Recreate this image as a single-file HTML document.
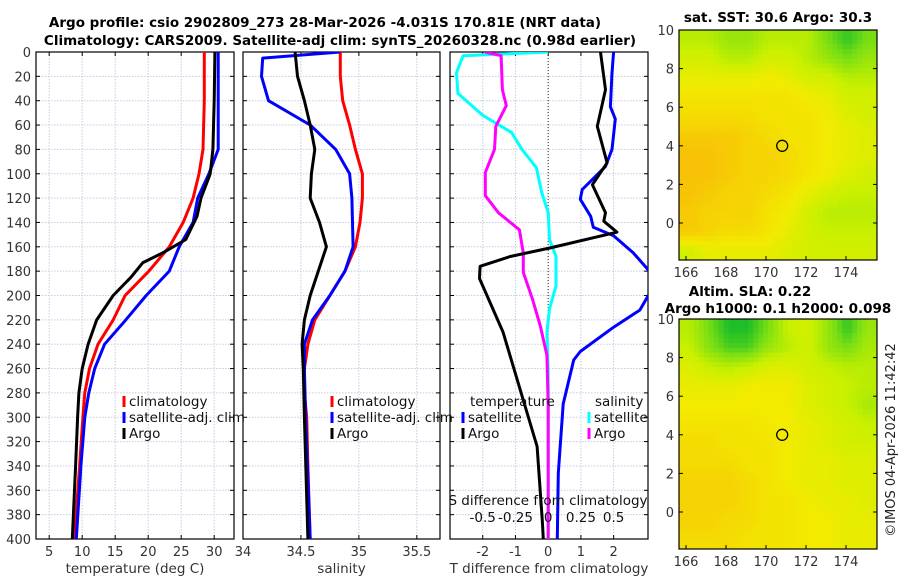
<!DOCTYPE html>
<html><head><meta charset="utf-8">
<style>
body{margin:0;background:#fff;}
svg{display:block;font-family:"DejaVu Sans","Liberation Sans",sans-serif;}
</style></head>
<body>
<svg id="chart" width="900" height="580" xmlns="http://www.w3.org/2000/svg">
<text x="325" y="27" text-anchor="middle" font-size="13.5" font-weight="bold">Argo profile: csio 2902809_273 28-Mar-2026 -4.031S 170.81E (NRT data)</text>
<text x="340" y="45" text-anchor="middle" font-size="13.5" font-weight="bold">Climatology: CARS2009. Satellite-adj clim: synTS_20260328.nc (0.98d earlier)</text>
<text x="778" y="22" text-anchor="middle" font-size="13.5" font-weight="bold">sat. SST: 30.6 Argo: 30.3</text>
<text x="750" y="296" text-anchor="middle" font-size="13.5" font-weight="bold">Altim. SLA: 0.22</text>
<text x="778" y="313" text-anchor="middle" font-size="13.5" font-weight="bold">Argo h1000: 0.1 h2000: 0.098</text>
<text transform="translate(895,440) rotate(-90)" text-anchor="middle" font-size="13" fill="#222">©IMOS 04-Apr-2026 11:42:42</text>
<g id="plots"></g>
</svg>
<script>
// ---- data ----
const depthClim=[0,40,80,100,120,140,160,180,200,220,240,260,280,300,340,400];
const tempClim=[28.5,28.5,28.3,27.7,26.8,25.3,23.2,20.1,16.5,14.7,12.4,11.1,10.4,10.1,9.6,8.8];
const depthSatT=[0,40,80,100,120,140,160,180,200,220,240,260,280,300,340,400];
const tempSat=[30.6,30.6,30.6,29.2,27.5,26.8,24.7,23.2,19.7,16.6,13.4,11.9,11.0,10.4,9.8,9.1];
const depthArgoT=[0,40,80,100,120,135,154,165,173,185,200,220,240,260,280,300,340,400];
const tempArgo=[30.1,30.0,29.8,29.4,28.0,27.4,25.7,22.2,19.2,17.4,14.7,12.2,10.9,10.0,9.5,9.3,9.0,8.5];
const depthSal=[0,20,40,60,80,100,120,140,160,180,200,220,240,260,280,300,340,400];
const salClim=[34.84,34.84,34.86,34.92,34.97,35.03,35.03,35.01,34.97,34.88,34.75,34.62,34.56,34.53,34.53,34.55,34.56,34.58];
const depthSatS=[0,5,20,40,60,80,100,120,160,180,200,220,240,260,300,400];
const salSat=[34.84,34.17,34.16,34.22,34.58,34.80,34.92,34.94,34.95,34.88,34.75,34.60,34.53,34.53,34.54,34.58];
const depthArgoS=[0,20,40,60,80,100,120,140,160,180,200,220,240,260,300,400];
const salArgo=[34.45,34.47,34.53,34.58,34.62,34.59,34.58,34.66,34.72,34.65,34.58,34.53,34.51,34.52,34.53,34.56];
const depthDT=[0,31,61,91,109,132,139,148,161,168,176,186,230,324,385,400];
const dTArgo=[1.6,1.75,1.5,1.8,1.35,1.75,1.7,2.1,0.05,-1.16,-2.08,-2.1,-1.38,-0.34,-0.18,-0.15];
const depthDTS=[0,17,45,55,80,94,113,121,135,144,151,165,179,190,200,212,226,246,253,289,346,400];
const dTSat=[2.0,1.95,1.9,2.05,1.95,1.75,1.04,0.98,1.3,1.38,2.0,2.6,3.06,3.4,3.06,2.8,2.0,0.98,0.78,0.46,0.31,0.28];
const depthDSS=[0,3,17,34,52,66,80,95,115,132,154,168,192,211,230,264,400];
const dSSat=[0,-0.65,-0.7,-0.69,-0.5,-0.28,-0.2,-0.09,-0.05,0,0.01,0.06,0.06,0.01,-0.01,0,0];
const depthDSA=[0,3,31,44,61,80,99,118,132,146,165,181,203,225,249,290,400];
const dSArgo=[-0.48,-0.36,-0.35,-0.32,-0.4,-0.41,-0.48,-0.48,-0.38,-0.22,-0.19,-0.19,-0.12,-0.06,-0.01,0,0];
const depthTicks=[0,20,40,60,80,100,120,140,160,180,200,220,240,260,280,300,320,340,360,380,400];
const tempTicks=[5,10,15,20,25,30];
const salTicks=[34,34.5,35,35.5];
const salTickLabels=["34","34.5","35","35.5"];
const dTTicks=[-2,-1,0,1,2];
const dSTicks=[-0.5,-0.25,0,0.25,0.5];
const dSTickLabels=["-0.5","-0.25","0","0.25","0.5"];
const lonTicks=[166,168,170,172,174];
const latTicks=[0,2,4,6,8,10];
const sstGrid=[
[.6,.6,.7,.7,.6,.6,.6,.8,.95,.8],
[.5,.5,.6,.6,.5,.5,.6,.7,.8,.7],
[.4,.4,.4,.4,.35,.4,.5,.5,.6,.6],
[.3,.3,.3,.3,.3,.3,.35,.4,.5,.5],
[.25,.25,.25,.25,.3,.3,.3,.35,.45,.5],
[.15,.15,.15,.2,.25,.3,.3,.35,.4,.45],
[.1,.1,.15,.2,.2,.25,.3,.35,.4,.45],
[.1,.1,.15,.2,.2,.25,.3,.35,.45,.5],
[.1,.15,.2,.2,.25,.3,.4,.5,.55,.55],
[.15,.2,.2,.2,.3,.35,.5,.6,.6,.6],
[.15,.2,.25,.25,.3,.4,.5,.55,.55,.55],
[.5,.4,.4,.4,.4,.45,.5,.5,.5,.5]];
const slaGrid=[
[.6,.8,1,1,.8,.55,.5,.7,.95,.7],
[.55,.75,.9,.9,.7,.6,.5,.7,.8,.65],
[.45,.55,.6,.55,.45,.45,.5,.55,.6,.6],
[.4,.4,.4,.35,.35,.35,.45,.5,.55,.6],
[.35,.35,.35,.35,.35,.35,.45,.5,.55,.65],
[.3,.3,.3,.3,.35,.35,.4,.45,.5,.55],
[.25,.25,.3,.3,.3,.35,.4,.45,.5,.5],
[.25,.25,.25,.3,.3,.35,.4,.4,.45,.45],
[.2,.2,.2,.25,.3,.35,.4,.4,.45,.45],
[.2,.2,.2,.25,.3,.3,.35,.4,.4,.45],
[.2,.2,.25,.25,.3,.3,.35,.35,.4,.4],
[.25,.25,.25,.3,.3,.3,.35,.35,.4,.4]];
const argoLon=170.81, argoLat=4.0;

// ---- drawing ----
const NS="http://www.w3.org/2000/svg";
const root=document.getElementById('plots');
function el(tag,attrs,parent){const e=document.createElementNS(NS,tag);for(const k in attrs)e.setAttribute(k,attrs[k]);(parent||root).appendChild(e);return e;}
function lin(d0,d1,r0,r1){return v=>r0+(v-d0)/(d1-d0)*(r1-r0);}
const Y0=52,Y1=539;
const yD=lin(0,400,Y0,Y1);

function panel(name,x0,x1,xs,ticks,labels,label,showY){
  const g=el('g',{});
  
  
  depthTicks.forEach(d=>{const l=el('line',{x1:x0,x2:x1,y1:yD(d),y2:yD(d),stroke:'#c5cbe0','stroke-dasharray':'1.5,1.5','stroke-width':1},g);
    
    el('line',{x1:x1-4,x2:x1,y1:yD(d),y2:yD(d),stroke:'#000'},g);el('line',{x1:x0,x2:x0+4,y1:yD(d),y2:yD(d),stroke:'#000'},g);
    if(showY){const t=el('text',{x:x0-5,y:yD(d)+5,'text-anchor':'end','font-size':13,fill:'#333'},g);t.textContent=d;
      }
  });
  ticks.forEach((v,i)=>{const X=xs(v);
    const l=el('line',{x1:X,x2:X,y1:Y0,y2:Y1,stroke:'#c5cbe0','stroke-dasharray':'1.5,1.5'},g);
    
    el('line',{x1:X,x2:X,y1:Y1-4,y2:Y1,stroke:'#000'},g);el('line',{x1:X,x2:X,y1:Y0,y2:Y0+4,stroke:'#000'},g);
    const t=el('text',{x:X,y:556,'text-anchor':'middle','font-size':13,fill:'#333'},g);t.textContent=labels[i];
    });
  const b=el('rect',{x:x0,y:Y0,width:x1-x0,height:Y1-Y0,fill:'none',stroke:'#000','stroke-width':1.2},g);
  
  const t=el('text',{x:(x0+x1)/2,y:573,'text-anchor':'middle','font-size':13.5,fill:'#333'},g);t.textContent=label;
  
  return g;
}
function curve(g,xs,xv,dv,color,name,clip){
  const d=xv.map((v,i)=>(i?'L':'M')+xs(v).toFixed(1)+','+yD(dv[i]).toFixed(1)).join('');
  const p=el('path',{d:d,fill:'none',stroke:color,'stroke-width':3,'stroke-linejoin':'round','clip-path':clip?'url(#'+clip+')':''},g);
  
}
function legend(g,x,y,color,text,name){
  el('rect',{x:x-1.5,y:y-10,width:3,height:11,fill:color},g);
  const t=el('text',{x:x+5,y:y,'font-size':13.5,fill:'#111'},g);t.textContent=text;
  
}
const defs=el('defs',{});
function clipRect(id,x,y,w,h){const c=el('clipPath',{id:id},defs);el('rect',{x:x,y:y,width:w,height:h},c);}

// Panel 1 temperature
const xT=lin(3,33,36,234);
const g1=panel('temperature-panel',36,234,xT,tempTicks,tempTicks.map(String),'temperature (deg C)',true);
clipRect('c1',36,Y0,198,Y1-Y0);
curve(g1,xT,tempClim,depthClim,'#f00','climatology-temp-line','c1');
curve(g1,xT,tempSat,depthSatT,'#00f','satellite-temp-line','c1');
curve(g1,xT,tempArgo,depthArgoT,'#000','argo-temp-line','c1');
legend(g1,124,406,'#f00','climatology','legend-climatology');
legend(g1,124,422,'#00f','satellite-adj. clim','legend-satellite');
legend(g1,124,438,'#000','Argo','legend-argo');

// Panel 2 salinity
const xS=lin(34,35.7,243,440);
const g2=panel('salinity-panel',243,440,xS,salTicks,salTickLabels,'salinity',false);
clipRect('c2',243,Y0,197,Y1-Y0);
curve(g2,xS,salClim,depthSal,'#f00','climatology-sal-line','c2');
curve(g2,xS,salSat,depthSatS,'#00f','satellite-sal-line','c2');
curve(g2,xS,salArgo,depthArgoS,'#000','argo-sal-line','c2');
legend(g2,332,406,'#f00','climatology','legend-climatology-sal');
legend(g2,332,422,'#00f','satellite-adj. clim','legend-satellite-sal');
legend(g2,332,438,'#000','Argo','legend-argo-sal');

// Panel 3 differences
const xD=lin(-3,3.05,450,648);
const xDS=v=>xD(v*4);
const g3=panel('difference-panel',450,648,xD,dTTicks,dTTicks.map(String),'T difference from climatology',false);
clipRect('c3',450,Y0,198,Y1-Y0);
const zl=el('line',{x1:xD(0),x2:xD(0),y1:Y0,y2:Y1,stroke:'#333','stroke-dasharray':'1,2'},g3);

curve(g3,xDS,dSSat,depthDSS,'#0ff','satellite-sal-diff-line','c3');
curve(g3,xDS,dSArgo,depthDSA,'#f0f','argo-sal-diff-line','c3');
curve(g3,xD,dTSat,depthDTS,'#00f','satellite-temp-diff-line','c3');
curve(g3,xD,dTArgo,depthDT,'#000','argo-temp-diff-line','c3');
{const t=el('text',{x:470,y:406,'font-size':13.5,fill:'#111'},g3);t.textContent='temperature';
 
 const s=el('text',{x:595,y:406,'font-size':13.5,fill:'#111'},g3);s.textContent='salinity';
 }
legend(g3,463,422,'#00f','satellite','legend-temp-satellite');
legend(g3,463,438,'#000','Argo','legend-temp-argo');
legend(g3,589,422,'#0ff','satellite','legend-sal-satellite');
legend(g3,589,438,'#f0f','Argo','legend-sal-argo');
{const t=el('text',{x:548,y:505,'text-anchor':'middle','font-size':13.5,fill:'#111'},g3);t.textContent='S difference from climatology';
 
 dSTicks.forEach((v,i)=>{const l=el('text',{x:xDS(v),y:522,'text-anchor':'middle','font-size':13.5,fill:'#111'},g3);l.textContent=dSTickLabels[i];
  });}

// Maps
function cmap(v){const st=[[0,250,178,10],[0.35,242,235,0],[0.55,200,240,0],[0.8,120,222,20],[1,30,190,40]];
  v=Math.max(0,Math.min(1,v));
  for(let i=1;i<st.length;i++){if(v<=st[i][0]){const a=st[i-1],b=st[i],f=(v-a[0])/(b[0]-a[0]);
    return 'rgb('+[1,2,3].map(k=>Math.round(a[k]+f*(b[k]-a[k]))).join(',')+')';}}return 'rgb(30,190,40)';}
function sample(grid,fr,fc){const R=grid.length,C=grid[0].length;
  fr=Math.max(0,Math.min(R-1,fr));fc=Math.max(0,Math.min(C-1,fc));
  const r0=Math.floor(fr),c0=Math.floor(fc),r1=Math.min(R-1,r0+1),c1=Math.min(C-1,c0+1),a=fr-r0,b=fc-c0;
  return grid[r0][c0]*(1-a)*(1-b)+grid[r0][c1]*(1-a)*b+grid[r1][c0]*a*(1-b)+grid[r1][c1]*a*b;}
function map(name,grid,y0,y1,lat10y){
  const g=el('g',{});
  const x0=679,x1=877;const xL=lin(165.65,175.55,x0,x1);const yL=lin(10,0,lat10y,lat10y+193);
  const rows=grid.length,cols=grid[0].length;const S=4;
  const nR=rows*S,nC=cols*S;const cw=(x1-x0)/nC,ch=(y1-y0)/nR;
  for(let r=0;r<nR;r++)for(let c=0;c<nC;c++){
    const v=sample(grid,(r+0.5)/S-0.5,(c+0.5)/S-0.5);
    const R=el('rect',{x:(x0+c*cw).toFixed(2),y:(y0+r*ch).toFixed(2),width:(cw+0.5).toFixed(2),height:(ch+0.5).toFixed(2),fill:cmap(v)},g);
    
    
  }
  lonTicks.forEach(v=>{const X=xL(v);el('line',{x1:X,x2:X,y1:y1-4,y2:y1,stroke:'#000'},g);
    const t=el('text',{x:X,y:y1+17,'text-anchor':'middle','font-size':13,fill:'#333'},g);t.textContent=v;
    });
  latTicks.forEach(v=>{const Y=yL(v);el('line',{x1:x0,x2:x0+4,y1:Y,y2:Y,stroke:'#000'},g);el('line',{x1:x1-4,x2:x1,y1:Y,y2:Y,stroke:'#000'},g);
    const t=el('text',{x:x0-5,y:Y+5,'text-anchor':'end','font-size':13,fill:'#333'},g);t.textContent=v;
    });
  const b=el('rect',{x:x0,y:y0,width:x1-x0,height:y1-y0,fill:'none',stroke:'#000','stroke-width':1.2},g);
  
  const c=el('circle',{cx:xL(argoLon),cy:yL(argoLat),r:5.5,fill:'none',stroke:'#000','stroke-width':1.3},g);
  
}
map('sst-map',sstGrid,30,260,30);
map('sla-map',slaGrid,319,549,319);
</script>
</body></html>
